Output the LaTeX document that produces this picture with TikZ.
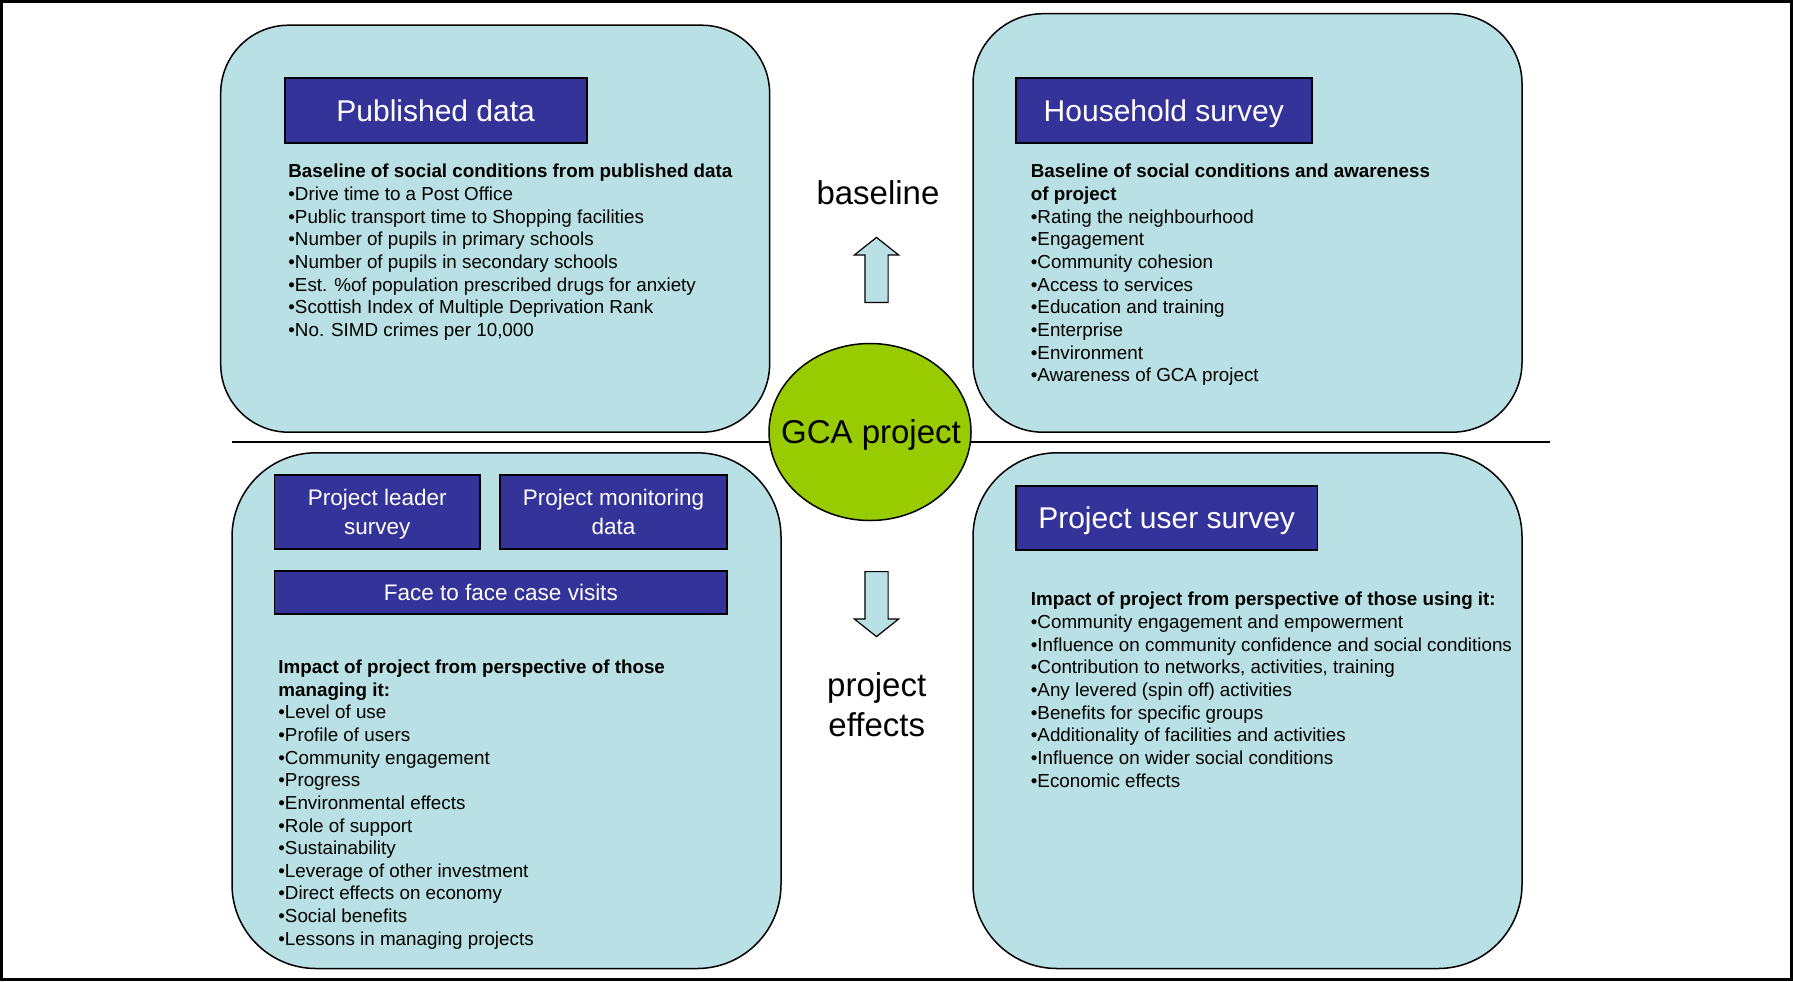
\documentclass[tikz,border=0pt]{standalone}
\usepackage{fontspec}
\setmainfont{Liberation Sans}
\usepackage{tikz}
\usetikzlibrary{shapes.geometric, shapes.arrows, positioning}
\definecolor{boxcyan}{RGB}{185,224,228}
\definecolor{hdrblue}{RGB}{51,51,153}
\definecolor{gcagreen}{RGB}{153,204,0}
\tikzset{
  quad/.style={rectangle, draw=black, fill=boxcyan, line width=0.75pt, inner sep=0pt},
  hdr/.style={rectangle, draw=black, fill=hdrblue, text=white, line width=0.9pt,
    inner sep=0pt, align=center, text depth=0pt, font=\fontsize{15}{18}\selectfont},
  bodytext/.style={anchor=base west, inner sep=0pt, align=left,
    font=\fontsize{9.4}{11.33}\selectfont},
  line/.style={line width=0.75pt, color=black}
}

\begin{document}
\begin{tikzpicture}[x=0.5pt, y=-0.5pt]
    \tikzset{
      hub/.style={ellipse, draw=black, fill=gcagreen, line width=0.75pt, inner sep=0pt,
        minimum width=101pt, minimum height=88.5pt},
      midlabel/.style={inner sep=0pt, align=center, font=\fontsize{16.5}{20}\selectfont},
      blockarrow/.style={single arrow, draw=black, fill=boxcyan, line width=0.6pt, inner sep=0pt,
        text height=11pt, text depth=0pt, minimum height=32.5pt, single arrow head extend=5.25pt,
        single arrow head indent=0pt, single arrow tip angle=103, anchor=tail},
      smallhdr/.style={hdr, font=\fontsize{11.25}{14.3}\selectfont}
    }
    \useasboundingbox (0,0) rectangle (1793,981);
    \draw[line width=1.5pt] (1.5,1.5) rectangle (1791.5,979.5);

    % Four quadrant boxes
    \node[quad, minimum width=274.45pt, minimum height=203.5pt, rounded corners=34pt] (pubq) at (495.15,228.7) {};
    \node[quad, minimum width=274.5pt, minimum height=209.25pt, rounded corners=35pt] (houseq) at (1247.5,222.95) {};
    \node[quad, minimum width=274.5pt, minimum height=257.85pt, rounded corners=42pt] (leadq) at (506.5,710.65) {};
    \node[quad, minimum width=274.5pt, minimum height=257.85pt, rounded corners=42pt] (userq) at (1247.5,710.65) {};

    % Divider
    \coordinate (divl) at (232,442);
    \coordinate (divr) at (1549.5,442);
    \draw[line] (divl) -- (divr);

    % Headers
    \node[hdr, minimum width=150.95pt, minimum height=32.6pt] (pubhdr) at (435.65,110.4) {Published data};
    \node[hdr, minimum width=148pt, minimum height=32.6pt] (househdr) at (1163.8,110.4) {Household survey};
    \node[hdr, minimum width=150.85pt, minimum height=32pt] (userhdr) at (1166.65,518) {Project user survey};
    \node[smallhdr, minimum width=102.9pt, minimum height=37.15pt] (leadhdr) at (377.3,511.75) {Project leader\\survey};
    \node[smallhdr, minimum width=113.75pt, minimum height=37.15pt] (monhdr) at (613.45,511.75) {Project monitoring\\data};
    \node[smallhdr, minimum width=226.45pt, minimum height=21.7pt] (visithdr) at (500.85,592.3) {Face to face case visits};

    % Box contents (placed by the baseline of their last line)
    \node[bodytext] (pubtxt) at (288,336.6) {\textbf{Baseline of social conditions from published data}\\
      •Drive time to a Post Office\\
      •Public transport time to Shopping facilities\\
      •Number of pupils in primary schools\\
      •Number of pupils in secondary schools\\
      •Est. \%of population prescribed drugs for anxiety\\
      •Scottish Index of Multiple Deprivation Rank\\
      •No. SIMD crimes per 10,000};
    \node[bodytext] (housetxt) at (1030.5,381.9) {\textbf{Baseline of social conditions and awareness}\\
      \textbf{of project}\\
      •Rating the neighbourhood\\
      •Engagement\\
      •Community cohesion\\
      •Access to services\\
      •Education and training\\
      •Enterprise\\
      •Environment\\
      •Awareness of GCA project};
    \node[bodytext] (leadtxt) at (278,945.3) {\textbf{Impact of project from perspective of those}\\
      \textbf{managing it:}\\
      •Level of use\\
      •Profile of users\\
      •Community engagement\\
      •Progress\\
      •Environmental effects\\
      •Role of support\\
      •Sustainability\\
      •Leverage of other investment\\
      •Direct effects on economy\\
      •Social benefits\\
      •Lessons in managing projects};
    \node[bodytext] (usertxt) at (1030.5,787.2) {\textbf{Impact of project from perspective of those using it:}\\
      •Community engagement and empowerment\\
      •Influence on community confidence and social conditions\\
      •Contribution to networks, activities, training\\
      •Any levered (spin off) activities\\
      •Benefits for specific groups\\
      •Additionality of facilities and activities\\
      •Influence on wider social conditions\\
      •Economic effects};

    % Centre
    \node[hub] (gca) at (870,432) {};
    \node[midlabel, anchor=base] (gcalbl) at (871,443) {GCA project};
    \node[midlabel, anchor=base] (baselbl) at (878,204) {baseline};
    \node[blockarrow, rotate=90] (uparr) at (876.5,303) {};
    \node[blockarrow, rotate=-90] (downarr) at (876.5,571) {};
    \node[midlabel, anchor=base] (efflbl) at (876.7,736.7) {project\\effects};
\end{tikzpicture}
\end{document}
